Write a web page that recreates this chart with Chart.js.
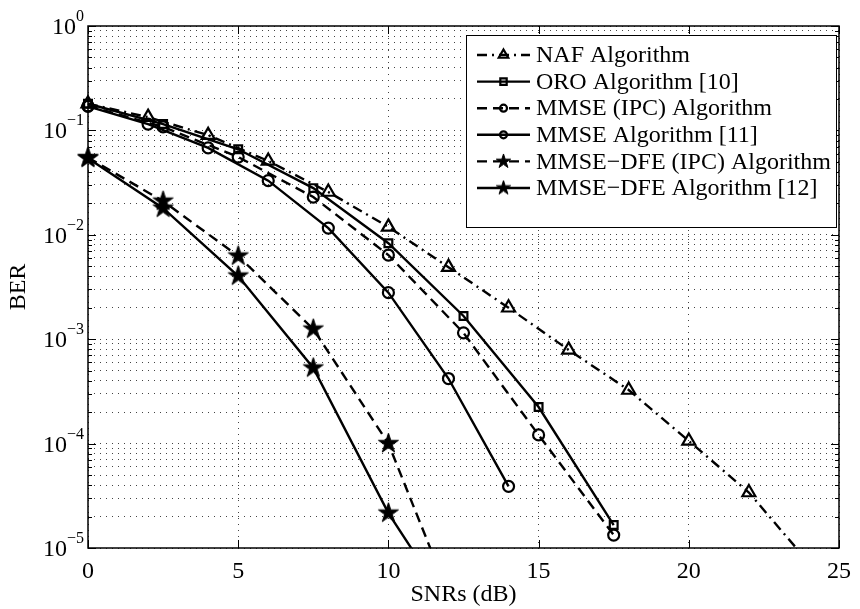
<!DOCTYPE html>
<html>
<head>
<meta charset="utf-8">
<script src="https://cdn.jsdelivr.net/npm/chart.js@4.4.1/dist/chart.umd.min.js"></script>
<style>
  body { margin: 0; background: #fff; }
</style>
</head>
<body>
<canvas id="berChart" width="860" height="609"></canvas>
<script>
// SNR points (dB) for each family of curves
const snrNaf = [0, 2, 4, 6, 8, 10, 12, 14, 16, 18, 20, 22, 24];
const snrOro = [0, 2.5, 5, 7.5, 10, 12.5, 15, 17.5];
const snrMmse = [0, 2, 4, 6, 8, 10, 12, 14];
const snrDfe = [0, 2.5, 5, 7.5, 10, 12.5];

// BER values
const berNaf = [0.18, 0.134, 0.090, 0.051, 0.0257, 0.0119, 0.0049, 0.0020, 0.00079, 0.000326, 0.000106, 0.000034, 0.0000072];
const berOro = [0.18, 0.115, 0.066, 0.028, 0.0083, 0.00167, 0.000224, 0.0000166];
const berMmseIpc = [0.172, 0.108, 0.0556, 0.023, 0.0064, 0.00115, 0.000121, 0.0000133];
const berMmse = [0.17, 0.115, 0.068, 0.033, 0.0116, 0.00279, 0.00042, 0.000039];
const berDfeIpc = [0.055, 0.021, 0.00626, 0.00125, 0.0001, 0.0000016];
const berDfe = [0.054, 0.018, 0.00403, 0.00053, 0.0000216, 0.0000017];

const seriesLabels = [
  'NAF Algorithm',
  'ORO Algorithm [10]',
  'MMSE (IPC) Algorithm',
  'MMSE Algorithm [11]',
  'MMSE\u2212DFE (IPC) Algorithm',
  'MMSE\u2212DFE Algorithm [12]'
];

const xTicks = [0, 5, 10, 15, 20, 25];
const yExponents = [0, -1, -2, -3, -4, -5];

const FONT = "'Liberation Serif', 'Times New Roman', serif";

// log grid: 1..9 x 10^k for every decade
const yTickValues = [];
yExponents.slice().reverse().forEach(function (e) {
  for (let m = 1; m <= 9; m++) {
    if (e === 0 && m > 1) break;
    yTickValues.push(m * Math.pow(10, e));
  }
});

// filled pentagram marker
function makeStar(outer) {
  const inner = outer * 0.382;
  const size = Math.ceil(outer * 2 + 4);
  const c = document.createElement('canvas');
  c.width = size; c.height = size;
  const g = c.getContext('2d');
  g.translate(size / 2, size / 2);
  g.beginPath();
  for (let i = 0; i < 10; i++) {
    const r = i % 2 ? inner : outer;
    const a = -Math.PI / 2 + i * Math.PI / 5;
    g.lineTo(r * Math.cos(a), r * Math.sin(a));
  }
  g.closePath();
  g.fillStyle = '#000';
  g.strokeStyle = '#000';
  g.lineWidth = 1;
  g.fill();
  g.stroke();
  return c;
}
const starPlot = makeStar(10.5);
const starLegend = makeStar(7.5);

function pts(xs, ys) {
  return xs.map(function (x, i) { return { x: x, y: ys[i] }; });
}

const base = {
  borderColor: '#000',
  borderWidth: 2.4,
  pointBorderColor: '#000',
  pointBackgroundColor: 'rgba(0,0,0,0)',
  pointBorderWidth: 2.2,
  fill: false,
  tension: 0,
  clip: { left: 20, top: 20, right: 20, bottom: 0 }
};

const datasets = [
  Object.assign({}, base, { label: seriesLabels[0], data: pts(snrNaf, berNaf), borderDash: [10, 5, 2, 5], pointStyle: 'triangle', pointRadius: 7.5, legendRadius: 5.5 }),
  Object.assign({}, base, { label: seriesLabels[1], data: pts(snrOro, berOro), borderDash: [], pointStyle: 'rect', pointRadius: 5.5, legendRadius: 4.5 }),
  Object.assign({}, base, { label: seriesLabels[2], data: pts(snrOro, berMmseIpc), borderDash: [10, 6], pointStyle: 'circle', pointRadius: 5.5, legendRadius: 3.5 }),
  Object.assign({}, base, { label: seriesLabels[3], data: pts(snrMmse, berMmse), borderDash: [], pointStyle: 'circle', pointRadius: 5.5, legendRadius: 3.5 }),
  Object.assign({}, base, { label: seriesLabels[4], data: pts(snrDfe, berDfeIpc), borderDash: [10, 6], pointStyle: starPlot, legendStyle: starLegend }),
  Object.assign({}, base, { label: seriesLabels[5], data: pts(snrDfe, berDfe), borderDash: [], pointStyle: starPlot, legendStyle: starLegend })
];

// axes box, inward ticks, superscript y labels, legend box
const matlabLook = {
  id: 'matlabLook',
  afterDatasetsDraw: function (chart) {
    const ctx = chart.ctx;
    const a = chart.chartArea;
    const xs = chart.scales.x, ys = chart.scales.y;
    ctx.save();
    ctx.strokeStyle = '#000';
    ctx.setLineDash([]);

    // inward ticks
    ctx.lineWidth = 1;
    ctx.beginPath();
    yTickValues.forEach(function (v) {
      const y = Math.round(ys.getPixelForValue(v)) + 0.5;
      const major = Math.abs(Math.log10(v) - Math.round(Math.log10(v))) < 1e-9;
      const len = major ? 8 : 4;
      ctx.moveTo(a.left, y); ctx.lineTo(a.left + len, y);
      ctx.moveTo(a.right, y); ctx.lineTo(a.right - len, y);
    });
    xTicks.forEach(function (v) {
      const x = Math.round(xs.getPixelForValue(v)) + 0.5;
      ctx.moveTo(x, a.bottom); ctx.lineTo(x, a.bottom - 8);
      ctx.moveTo(x, a.top); ctx.lineTo(x, a.top + 8);
    });
    ctx.stroke();

    // box
    ctx.lineWidth = 1.5;
    ctx.strokeRect(a.left, a.top, a.right - a.left, a.bottom - a.top);

    // y tick labels 10^k
    ctx.fillStyle = '#000';
    ctx.textBaseline = 'alphabetic';
    ctx.textAlign = 'left';
    yExponents.forEach(function (e) {
      const y = ys.getPixelForValue(Math.pow(10, e));
      const expText = e === 0 ? '0' : '\u2212' + Math.abs(e);
      ctx.font = '16px ' + FONT;
      const ew = ctx.measureText(expText).width;
      ctx.font = '24px ' + FONT;
      const bw = ctx.measureText('10').width;
      const xr = a.left - 4;
      ctx.fillText('10', xr - ew - bw, y + 8);
      ctx.font = '16px ' + FONT;
      ctx.fillText(expText, xr - ew, y - 5);
    });

    // legend
    const lx = a.right - 373, ly = a.top + 9, lw = 370, lh = 192;
    ctx.fillStyle = '#fff';
    ctx.fillRect(lx, ly, lw, lh);
    ctx.lineWidth = 1;
    ctx.strokeRect(lx + 0.5, ly + 0.5, lw, lh);
    chart.data.datasets.forEach(function (ds, i) {
      const cy = ly + 20 + i * 26.6;
      ctx.lineWidth = 2.4;
      ctx.setLineDash(ds.borderDash || []);
      ctx.beginPath();
      ctx.moveTo(lx + 11, cy);
      ctx.lineTo(lx + 64, cy);
      ctx.stroke();
      ctx.setLineDash([]);
      ctx.fillStyle = 'rgba(0,0,0,0)';
      ctx.lineWidth = 2.2;
      Chart.helpers.drawPoint(ctx, {
        pointStyle: ds.legendStyle || ds.pointStyle,
        radius: ds.legendRadius || 5,
        borderWidth: 2.2,
        rotation: 0
      }, lx + 37.5, cy);
      ctx.fillStyle = '#000';
      ctx.font = '24px ' + FONT;
      ctx.textBaseline = 'middle';
      ctx.fillText(ds.label, lx + 70, cy + 1);
    });
    ctx.restore();
  }
};

new Chart(document.getElementById('berChart'), {
  type: 'line',
  data: { datasets: datasets },
  options: {
    responsive: false,
    animation: false,
    devicePixelRatio: 1,
    layout: { padding: { left: 0, right: 17, top: 26, bottom: 0 } },
    plugins: { legend: { display: false }, tooltip: { enabled: false } },
    scales: {
      x: {
        type: 'linear',
        min: 0,
        max: 25,
        afterBuildTicks: function (scale) {
          scale.ticks = xTicks.map(function (v) { return { value: v }; });
        },
        afterFit: function (scale) { scale.height = 61; },
        ticks: { color: '#000', padding: 9, font: { family: FONT, size: 24 }, maxRotation: 0, autoSkip: false },
        grid: { color: '#444', lineWidth: 1, drawTicks: false },
        border: { display: false, dash: [1, 5] },
        title: { display: true, text: 'SNRs (dB)', color: '#000', font: { family: FONT, size: 24 }, padding: 0 }
      },
      y: {
        type: 'logarithmic',
        min: 1e-5,
        max: 1,
        afterBuildTicks: function (scale) {
          scale.ticks = yTickValues.map(function (v) { return { value: v }; });
        },
        afterFit: function (scale) { scale.width = 88; },
        ticks: { display: false, autoSkip: false },
        grid: { color: '#444', lineWidth: 1, drawTicks: false },
        border: { display: false, dash: [1, 5] },
        title: { display: true, text: 'BER', color: '#000', font: { family: FONT, size: 24 }, padding: { top: 4, bottom: 0 } }
      }
    }
  },
  plugins: [matlabLook]
});
</script>
</body>
</html>
